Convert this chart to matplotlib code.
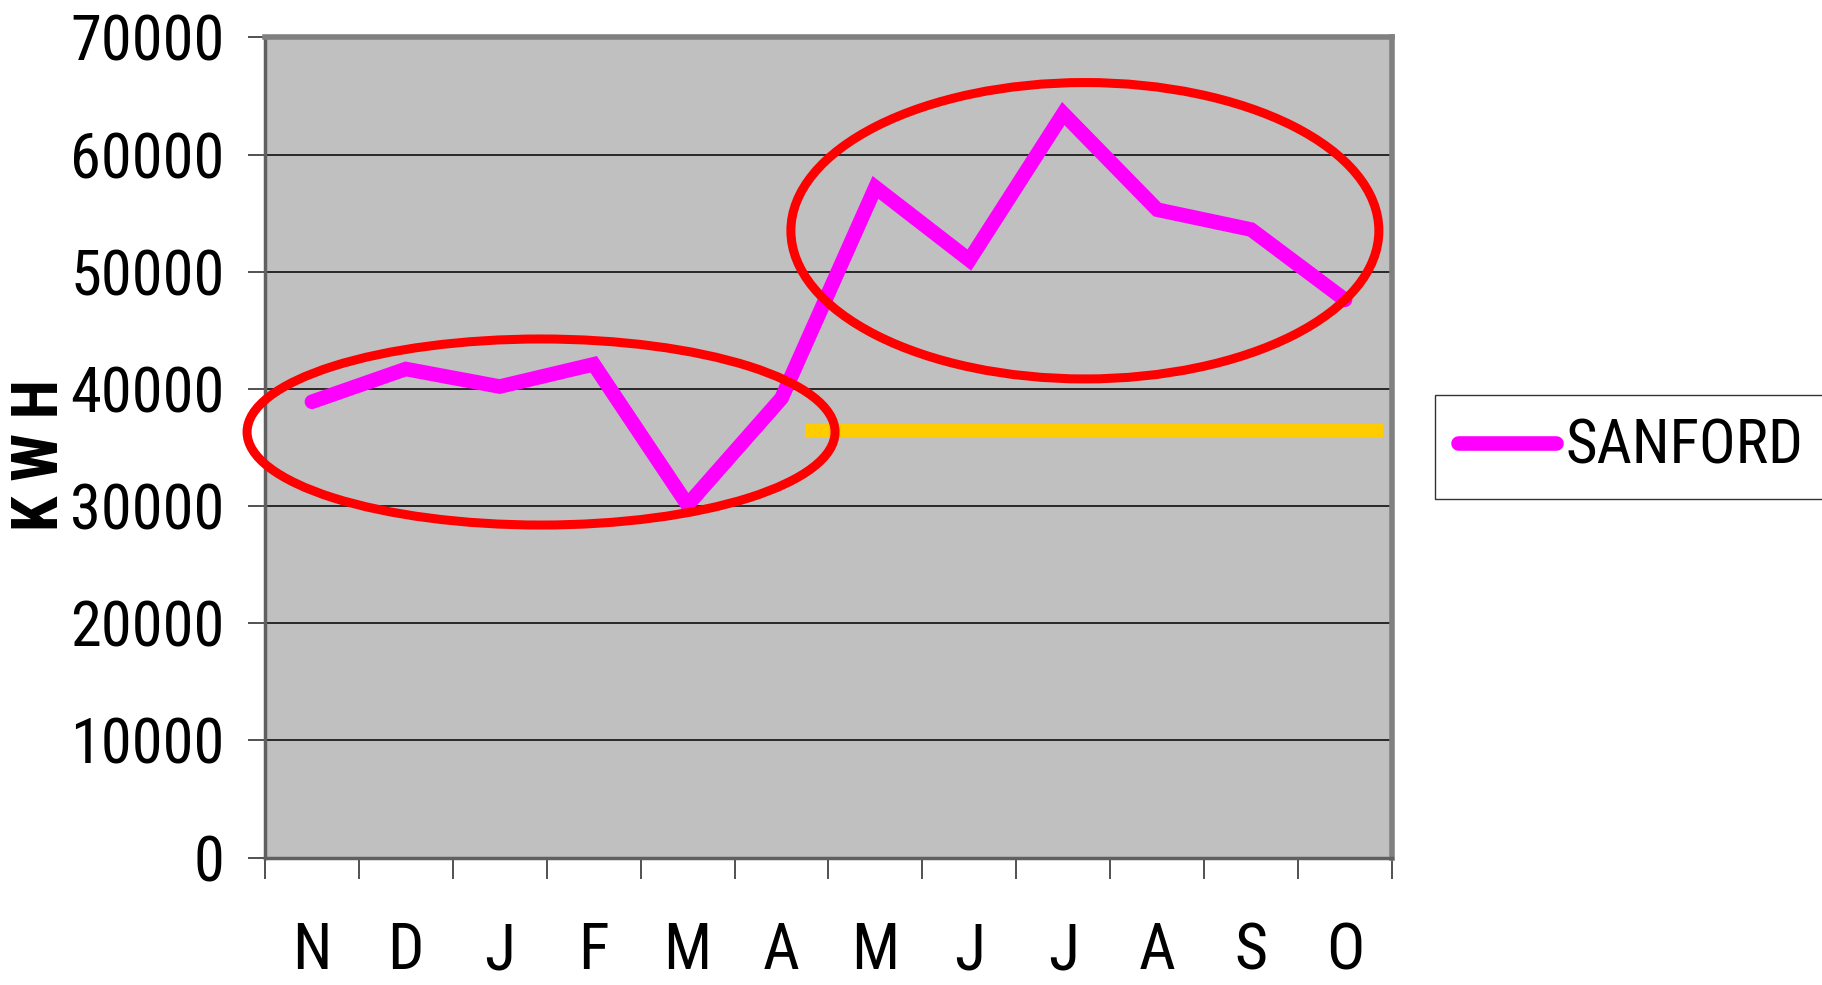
import numpy as np
import matplotlib.pyplot as plt
from matplotlib.patches import Ellipse

plt.rcParams['font.family'] = ['Roboto Condensed', 'Liberation Sans Narrow', 'Liberation Sans']

months = ['N', 'D', 'J', 'F', 'M', 'A', 'M', 'J', 'J', 'A', 'S', 'O']
kwh = [38900, 41700, 40200, 42100, 30100, 39200,
       57200, 51000, 63500, 55300, 53600, 47600]
series_name = 'SANFORD'
ref_level = 36400
ref_span = (5.25, 11.4)

fig = plt.figure(figsize=(18.22, 9.85), dpi=100)
ax = fig.add_axes([0.1454, 0.1294, 0.764 - 0.1454, 0.962 - 0.1294])
ax.set_facecolor('#C0C0C0')

x = np.arange(len(months))
ax.plot(x, kwh, color='#FF00FF', lw=10.5, solid_capstyle='round',
        solid_joinstyle='miter', label=series_name, zorder=3)

# reference level
ax.hlines(ref_level, ref_span[0], ref_span[1], color='#FFCC00', lw=10, zorder=2)

# highlight circles
ax.add_patch(Ellipse((2.44, 36320), 6.26, 15880, fill=False,
                     edgecolor='#FF0000', lw=6.5, zorder=4, clip_on=False))
ax.add_patch(Ellipse((8.23, 53500), 6.26, 25300, fill=False,
                     edgecolor='#FF0000', lw=6.5, zorder=4, clip_on=False))

ax.set_xlim(-0.5, len(months) - 0.5)
ax.set_ylim(0, 70000)
ax.set_yticks(np.arange(0, 70001, 10000))
ax.set_xticks(x)
ax.set_xticklabels(months)
ax.set_xticks(np.arange(-0.5, len(months), 1), minor=True)

ax.yaxis.grid(True, color='black', lw=1.1)
ax.set_axisbelow(True)

ax.tick_params(axis='y', length=12, width=1.2, color='#333333', pad=17, labelsize=45)
ax.tick_params(axis='x', which='major', length=0, pad=45, labelsize=46)
ax.tick_params(axis='x', which='minor', length=15, width=1.2, color='#333333')

for side in ['top', 'right']:
    ax.spines[side].set_color('#808080')
    ax.spines[side].set_linewidth(4)
for side in ['left', 'bottom']:
    ax.spines[side].set_color('#606060')
    ax.spines[side].set_linewidth(2.5)

fig.text(40 / 1822, 1 - 455 / 985, 'K W H', rotation=90, ha='center', va='center',
         fontsize=46, fontweight='bold')

leg = ax.legend(loc='center left', bbox_to_anchor=(1435 / 1822, 1 - 447 / 985),
                bbox_transform=fig.transFigure, fontsize=44, frameon=True,
                fancybox=False, borderpad=0.38, handlelength=1.6,
                handletextpad=0.15, borderaxespad=0)
leg.get_frame().set_edgecolor('black')
leg.get_frame().set_linewidth(1)

fig.savefig('out.png', dpi=100)
